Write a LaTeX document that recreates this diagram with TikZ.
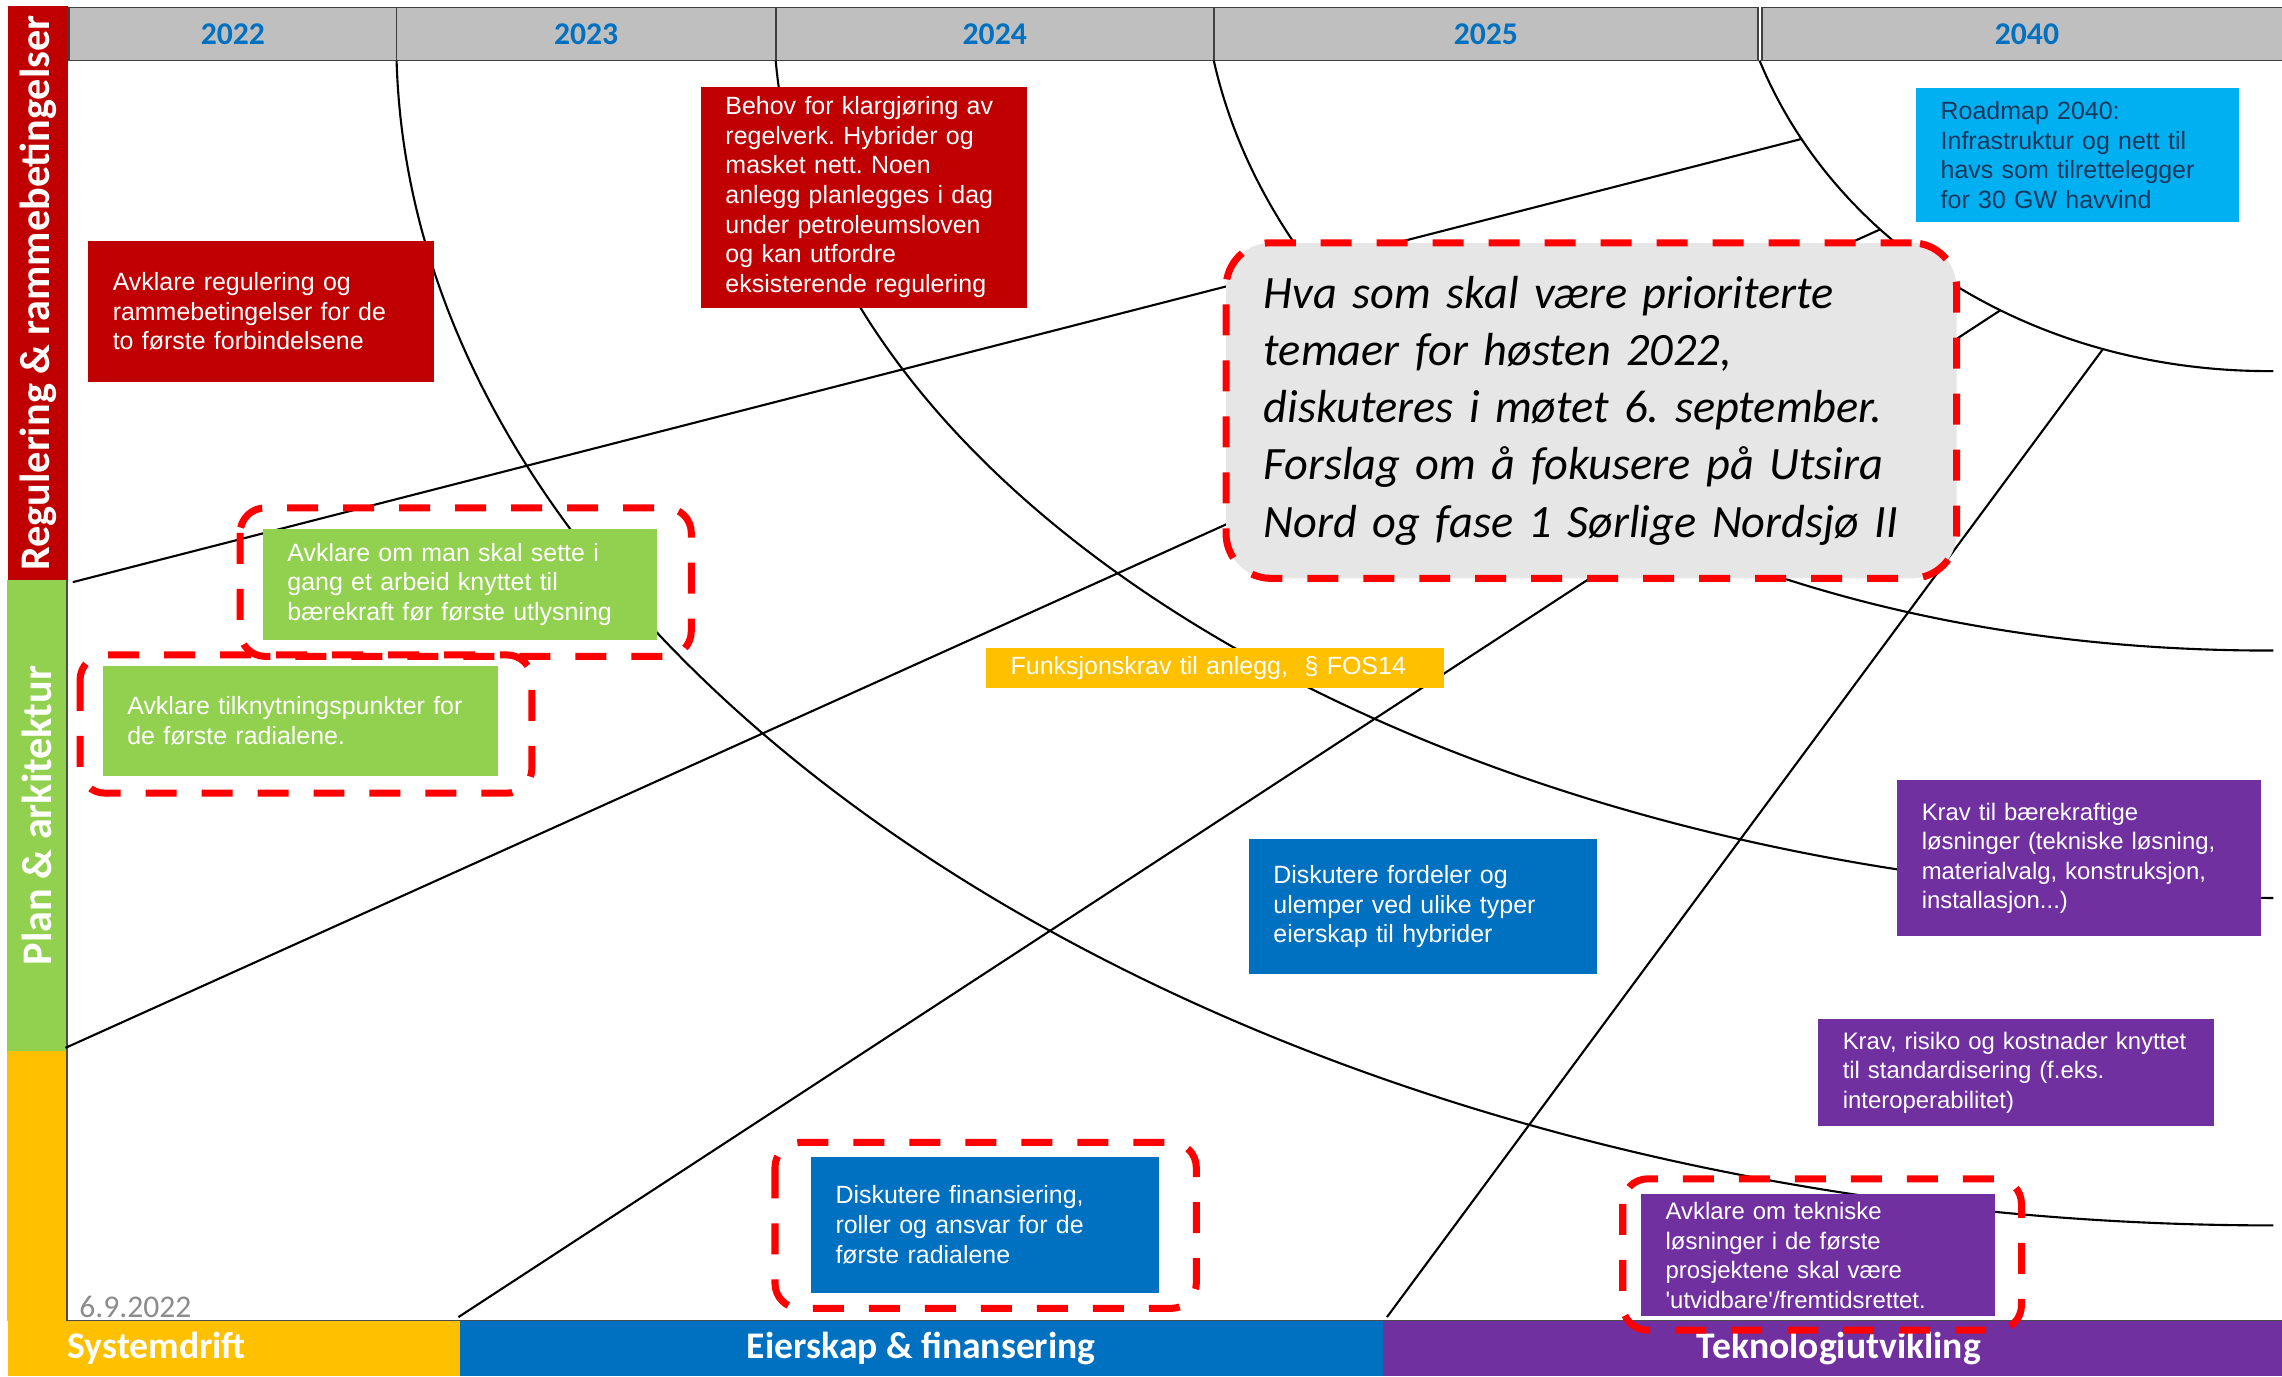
\documentclass[tikz,border=0pt]{standalone}
\usepackage{fontspec}
\setmainfont{Liberation Sans}
\newfontfamily\carl{Carlito}
\usetikzlibrary{intersections}

\definecolor{regred}{HTML}{C00000}
\definecolor{plangreen}{HTML}{92D050}
\definecolor{driftyellow}{HTML}{FFC000}
\definecolor{eierblue}{HTML}{0070C0}
\definecolor{teknopurple}{HTML}{7030A0}
\definecolor{roadcyan}{HTML}{00B0F0}
\definecolor{roadnavy}{HTML}{17375E}
\definecolor{headgrey}{HTML}{BFBFBF}
\definecolor{notegrey}{HTML}{E6E6E6}
\definecolor{dashred}{HTML}{FF0000}
\definecolor{dategrey}{HTML}{8C8C8C}

\newlength{\pxu}
\setlength{\pxu}{0.014554cm}

\tikzset{
  yearcell/.style={draw=black!75, line width=0.5pt, fill=headgrey, minimum height=36.5\pxu, inner sep=0pt, font=\carl\bfseries\fontsize{9}{11}\selectfont, text=eierblue},
  lanebar/.style={inner sep=0pt, font=\carl\bfseries\fontsize{12}{14}\selectfont, text=white},
  footbar/.style={inner sep=0pt, minimum height=38\pxu, font=\carl\bfseries\fontsize{10.7}{12}\selectfont, text=white},
  task/.style={anchor=north west, inner xsep=17\pxu, inner ysep=0pt, align=left, text=white, font=\fontsize{7.1}{8.45}\selectfont},
  smalltask/.style={task, font=\fontsize{6.8}{8.4}\selectfont},
  focus/.style={draw=dashred, line width=2pt, dash pattern=on 0.31cm off 0.25cm, rounded corners=0.25cm},
  flow/.style={line width=0.6pt}
}

\begin{document}
\frenchspacing
\begin{tikzpicture}[x=0.014554cm, y=-0.014554cm]
\useasboundingbox (0,0) rectangle (1568,945.5);

\node[yearcell, minimum width=225\pxu] (y2022) at (160,23.35) {2022};
\node[yearcell, minimum width=260.5\pxu] (y2023) at (402.75,23.35) {2023};
\node[yearcell, minimum width=301\pxu] (y2024) at (683.5,23.35) {2024};
\node[yearcell, minimum width=374\pxu] (y2025) at (1021,23.35) {2025};
\node[yearcell, minimum width=364.5\pxu] (y2040) at (1392.75,23.35) {2040};

\node[lanebar, fill=regred, rotate=90, minimum width=394.7\pxu, minimum height=41\pxu] (reglane) at (26,201.35) {Regulering \& rammebetingelser};
\node[lanebar, fill=plangreen, rotate=90, minimum width=323.3\pxu, minimum height=41\pxu] (planlane) at (25.5,560.35) {Plan \& arkitektur};
\fill[driftyellow] (5,722) rectangle (46,907.5);

\node[footbar, fill=driftyellow, anchor=west, inner xsep=41\pxu, text width=229\pxu, align=left] (driftbar) at (5,926.5) {Systemdrift};
\node[footbar, fill=eierblue, minimum width=634\pxu] (eierbar) at (633,926.5) {Eierskap \& finansering};
\node[footbar, fill=teknopurple, minimum width=627\pxu] (teknbar) at (1263.5,926.5) {Teknologiutvikling};
\draw[line width=0.4pt, black!70] (46,398.7) -- (46,907.5) -- (1568,907.5);

\draw[flow] (272.5,41.6) .. controls (285,473) and (864,842) .. (1562,842);
\draw[flow] (533,41.6) .. controls (560,352) and (1006,617) .. (1562,617);
\draw[flow] (834,41.6) .. controls (884,265) and (1168,448) .. (1562,447);
\draw[flow, name path=arcfive] (1209,41.6) .. controls (1262,170) and (1400,256) .. (1562,255);

\coordinate (regfoot) at (50,400);
\coordinate (planfoot) at (45,720);
\coordinate (driftfoot) at (315,905);
\coordinate (eierfoot) at (953,905);
\path[name path=rayreg] (regfoot) -- (1626,-4);
\path[name path=rayplan] (planfoot) -- (1600,18.7);
\path[name path=raydrift] (driftfoot) -- (1600,66);
\path[name path=rayeier] (eierfoot) -- (1600,30.3);
\path[name intersections={of=rayreg and arcfive, by=regend}];
\path[name intersections={of=rayplan and arcfive, by=planend}];
\path[name intersections={of=raydrift and arcfive, by=driftend}];
\path[name intersections={of=rayeier and arcfive, by=eierend}];
\draw[flow] (regfoot) -- (regend);
\draw[flow] (planfoot) -- (planend);
\draw[flow] (driftfoot) -- (driftend);
\draw[flow] (eierfoot) -- (eierend);

\node[task, fill=regred, text width=204\pxu, minimum height=97\pxu] (regframe) at (60,165) {Avklare regulering og\\rammebetingelser for de\\to første forbindelsene};
\node[task, fill=regred, text width=190\pxu, minimum height=152\pxu] (regrules) at (481,59) {Behov for klargjøring av\\regelverk. Hybrider og\\masket nett. Noen\\anlegg planlegges i dag\\under petroleumsloven\\og kan utfordre\\eksisterende regulering};
\node[task, fill=roadcyan, text=roadnavy, text width=188\pxu, minimum height=92\pxu] (roadmap) at (1316,60) {Roadmap 2040:\\Infrastruktur og nett til\\havs som tilrettelegger\\for 30 GW havvind};
\node[task, fill=plangreen, text width=237\pxu, minimum height=76\pxu] (planwork) at (180,363) {Avklare om man skal sette i\\gang et arbeid knyttet til\\bærekraft før første utlysning};
\node[task, fill=plangreen, text width=237.5\pxu, minimum height=75.5\pxu] (planpoints) at (70,457) {Avklare tilknytningspunkter for\\de første radialene.};
\node[task, fill=driftyellow, text width=281\pxu, minimum height=27.4\pxu] (fosreq) at (677,444.6) {Funksjonskrav til anlegg,~ § FOS14};
\node[task, fill=eierblue, text width=205\pxu, minimum height=92.8\pxu] (eierhybrid) at (857.5,576.2) {Diskutere fordeler og\\ulemper ved ulike typer\\eierskap til hybrider};
\node[smalltask, fill=teknopurple, text width=216\pxu, minimum height=107.5\pxu] (teknsustain) at (1303,535.5) {Krav til bærekraftige\\løsninger (tekniske løsning,\\materialvalg, konstruksjon,\\installasjon...)};
\node[smalltask, fill=teknopurple, text width=238\pxu, minimum height=73.3\pxu] (teknstandard) at (1248.7,699.7) {Krav, risiko og kostnader knyttet\\til standardisering (f.eks.\\interoperabilitet)};
\node[task, fill=eierblue, text width=205\pxu, minimum height=93.4\pxu] (eierfinance) at (556.6,794.3) {Diskutere finansiering,\\roller og ansvar for de\\første radialene};
\node[smalltask, fill=teknopurple, text width=209\pxu, minimum height=84\pxu] (teknfuture) at (1127,820) {Avklare om tekniske\\løsninger i de første\\prosjektene skal være\\\textquotesingle utvidbare\textquotesingle/fremtidsrettet.};

\node[focus, anchor=north west, fill=notegrey, rounded corners=0.45cm, text width=450\pxu, inner xsep=26\pxu, inner ysep=0pt, minimum height=230.6\pxu, align=left, font=\carl\itshape\fontsize{13.2}{16.3}\selectfont] (note) at (840,164.4) {Hva som skal være prioriterte\\temaer for høsten 2022,\\diskuteres i møtet 6. september.\\Forslag om å fokusere på Utsira\\Nord og fase 1 Sørlige Nordsjø II};

\draw[focus] (165,349) rectangle (475,451);
\draw[focus] (55,450) rectangle (365.5,545);
\draw[focus] (532.5,785) rectangle (822,899);
\draw[focus] (1115,810) rectangle (1389,914);

\node[anchor=south west, inner sep=0pt, font=\carl\fontsize{9}{10}\selectfont, text=dategrey] (date) at (54,906) {6.9.2022};
\end{tikzpicture}
\end{document}
